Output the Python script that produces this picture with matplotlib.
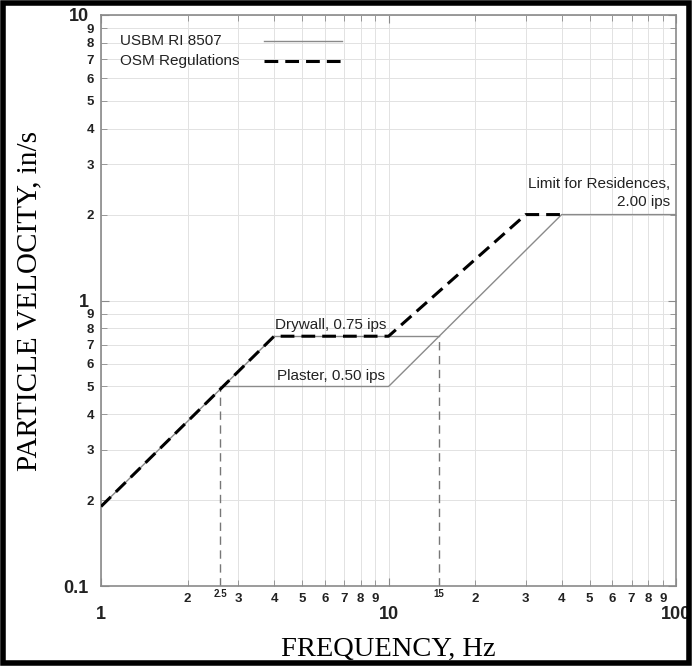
import matplotlib
matplotlib.use("Agg")
import matplotlib.pyplot as plt
from matplotlib.ticker import FixedLocator, FixedFormatter

# USBM RI 8507 criteria (solid grey)
usbm_low_f = [1, 4]
usbm_low_v = [0.19, 0.75]
usbm_plaster_f = [2.65, 10, 40, 100]
usbm_plaster_v = [0.5, 0.5, 2.0, 2.0]
usbm_drywall_f = [4, 15]
usbm_drywall_v = [0.75, 0.75]
# OSM regulations (dashed black)
osm_f = [1, 4, 10, 30, 40]
osm_v = [0.19, 0.75, 0.75, 2.0, 2.0]
# reference verticals
vref_f = [2.6, 15]
vref_v = [0.5, 0.75]
vref_lab = ["2.5", "15"]

x_major = [1, 10, 100]
x_major_lab = ["1", "10", "100"]
y_major = [0.1, 1, 10]
y_major_lab = ["0.1", "1", "10"]
minor_digits = [2, 3, 4, 5, 6, 7, 8, 9]

SANS = "Liberation Sans"
SERIF = "Liberation Serif"
GREY = "#8a8a8a"
DASH = (4.5, 2.3)

fig = plt.figure(figsize=(6.92, 6.66), dpi=100)
fig.patch.set_facecolor("white")
ax = fig.add_axes([0.146, 0.12, 0.831, 0.8575])
ax.set_xscale("log"); ax.set_yscale("log")
ax.set_xlim(1, 100); ax.set_ylim(0.1, 10)

ax.grid(which="both", color="#e2e2e2", lw=0.7, zorder=0)

# curves
ax.plot(usbm_low_f, usbm_low_v, color=GREY, lw=1.0, zorder=2)
ax.plot(usbm_plaster_f, usbm_plaster_v, color=GREY, lw=1.0, zorder=2)
ax.plot(usbm_drywall_f, usbm_drywall_v, color=GREY, lw=1.0, zorder=2)
ax.plot(osm_f, osm_v, color="black", lw=2.2, dashes=DASH, zorder=3)
for f, v in zip(vref_f, vref_v):
    ax.plot([f, f], [0.1, v], color="#777777", lw=1.0, dashes=(6, 4), zorder=2)

# legend: text on the left, line sample on the right
leg_items = [("USBM RI 8507", dict(color=GREY, lw=1.0)),
             ("OSM Regulations", dict(color="black", lw=2.2, dashes=DASH))]
for i, (lab, style) in enumerate(leg_items):
    yy = 0.955 - i * 0.036
    ax.text(0.033, yy, lab, transform=ax.transAxes, ha="left", va="center",
            fontsize=11, family=SANS, color="#222")
    ax.plot([0.283, 0.419], [yy, yy], transform=ax.transAxes, **style)

# annotations
ax.text(6.3, 0.775, "Drywall, 0.75 ips", ha="center", va="bottom", fontsize=11, family=SANS, color="#222")
ax.text(6.3, 0.515, "Plaster, 0.50 ips", ha="center", va="bottom", fontsize=11, family=SANS, color="#222")
ax.text(95, 2.1, "Limit for Residences,\n2.00 ips", ha="right", va="bottom", fontsize=11,
        family=SANS, color="#222", linespacing=1.3)

# ticks
ax.xaxis.set_major_locator(FixedLocator(x_major))
ax.xaxis.set_major_formatter(FixedFormatter(x_major_lab))
ax.yaxis.set_major_locator(FixedLocator(y_major))
ax.yaxis.set_major_formatter(FixedFormatter(y_major_lab))
xminor = [d * 10 ** e for e in (0, 1) for d in minor_digits]
yminor = [d * 10 ** e for e in (-1, 0) for d in minor_digits]
ax.xaxis.set_minor_locator(FixedLocator(xminor))
ax.xaxis.set_minor_formatter(FixedFormatter([str(d) for d in minor_digits] * 2))
ax.yaxis.set_minor_locator(FixedLocator(yminor))
ax.yaxis.set_minor_formatter(FixedFormatter([str(d) for d in minor_digits] * 2))

ax.tick_params(which="both", direction="in", top=True, right=True, color=GREY)
ax.tick_params(which="major", length=6)
ax.tick_params(which="minor", length=4)
ax.tick_params(axis="x", which="major", pad=14, labelsize=13)
ax.tick_params(axis="x", which="minor", pad=5, labelsize=9.5)
ax.tick_params(axis="y", which="major", pad=9, labelsize=13)
ax.tick_params(axis="y", which="minor", pad=5, labelsize=9.5)
for lab in ax.get_xticklabels(which="both") + ax.get_yticklabels(which="both"):
    lab.set_family(SANS); lab.set_fontweight("bold"); lab.set_color("#222")

# small labels for the reference verticals, just under the axis
for f, lab in zip(vref_f, vref_lab):
    ax.text(f, 0.0975, lab, ha="center", va="top", fontsize=7, family=SANS,
            fontweight="bold", color="#222", clip_on=False)

for s in ax.spines.values():
    s.set_color(GREY); s.set_linewidth(1.2)

ax.set_xlabel("FREQUENCY, Hz", family=SERIF, fontsize=20.5, labelpad=10)
ax.set_ylabel("PARTICLE VELOCITY, in/s", family=SERIF, fontsize=21)
ax.yaxis.set_label_coords(-0.102, 0.5)

# outer black frame
fig.patches.append(plt.Rectangle((0.005, 0.005), 0.99, 0.99, transform=fig.transFigure,
                                 fill=False, edgecolor="black", lw=4))

fig.savefig("out.png", dpi=100)
